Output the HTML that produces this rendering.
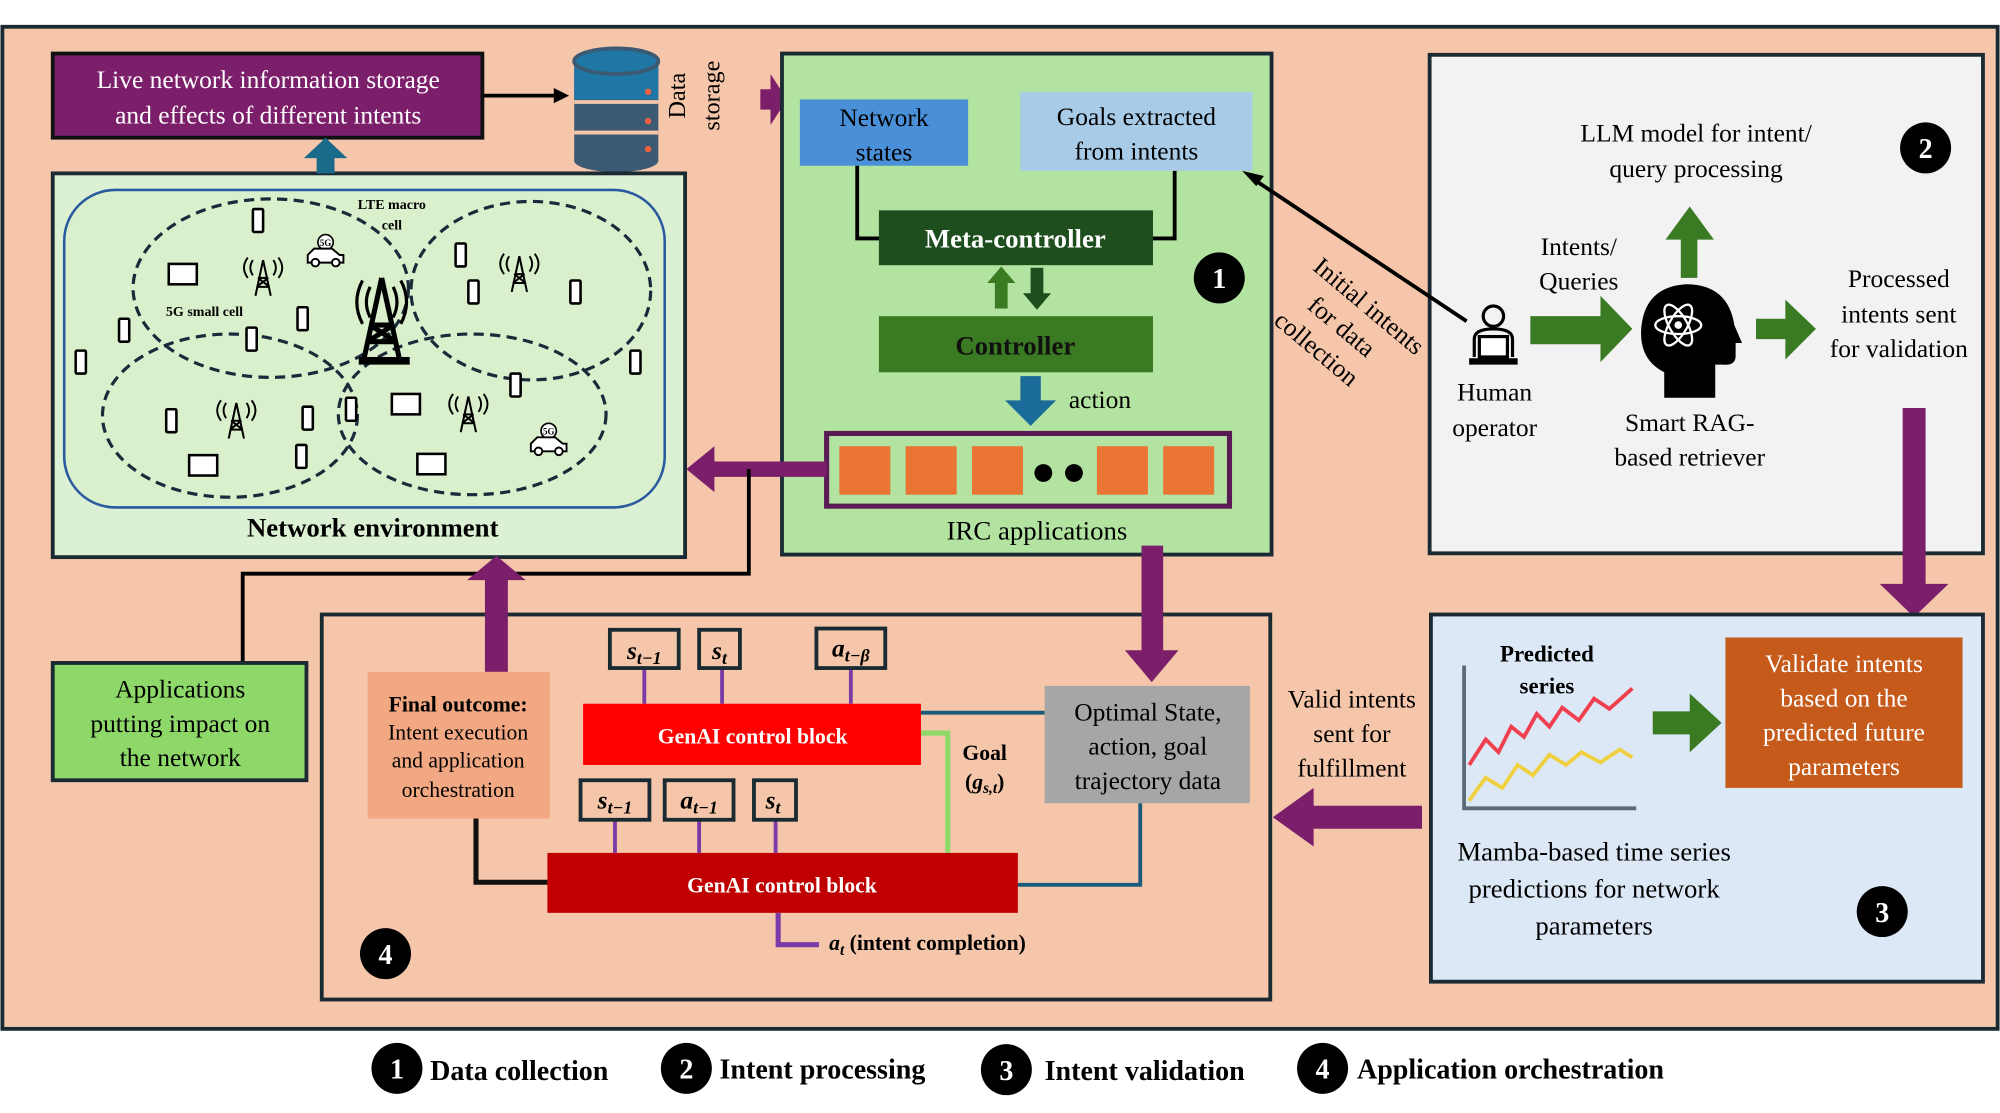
<!DOCTYPE html>
<html><head><meta charset="utf-8"><style>
html,body{margin:0;padding:0;background:#fff}
svg{display:block;font-family:"Liberation Serif","DejaVu Serif",serif}
svg text{font-family:"Liberation Serif","DejaVu Serif",serif}
</style></head><body>
<svg width="2000" height="1113" viewBox="0 0 1568 873" xmlns="http://www.w3.org/2000/svg" font-family="Liberation Serif, DejaVu Serif, serif">
<defs>
<g id="phone"><rect x="-4" y="-9" width="8" height="18" rx="1" fill="#fff" stroke="#000" stroke-width="2"/></g>
<g id="tab"><rect x="-11" y="-8" width="22" height="16" fill="#fff" stroke="#000" stroke-width="2"/></g>
<g id="tower"><path d="M0-14 L-6 14 M0-14 L6 14 M-4 0 L4 0 M-5 7 L5 7 M-4 0 L5 7 M4 0 L-5 7" stroke="#000" stroke-width="1.6" fill="none"/><path d="M-8-14 q-4 6 0 12 M8-14 q4 6 0 12 M-12-16 q-6 8 0 16 M12-16 q6 8 0 16" stroke="#000" stroke-width="1.5" fill="none"/></g>
<g id="car"><circle cx="0" cy="-10" r="6" fill="#fff" stroke="#000" stroke-width="1.3"/><text x="0" y="-7" font-size="7" text-anchor="middle" font-weight="bold">5G</text><path d="M-14 6 v-6 l5-5 h14 l6 5 h3 v6 z" fill="#fff" stroke="#000" stroke-width="1.5"/><circle cx="-8" cy="6" r="3" fill="#fff" stroke="#000" stroke-width="1.5"/><circle cx="8" cy="6" r="3" fill="#fff" stroke="#000" stroke-width="1.5"/></g>
</defs>
<rect x="0" y="0" width="1568" height="873" fill="#fff"/>
<rect x="1.5" y="21" width="1565" height="786" fill="#f5c6aa" stroke="#1a2a33" stroke-width="3"/>

<rect x="41" y="42" width="337" height="66" fill="#7b1f6a" stroke="#111" stroke-width="3"/>
<text x="210" y="69" font-size="20" fill="#fff" text-anchor="middle">Live network information storage</text>
<text x="210" y="97" font-size="20" fill="#fff" text-anchor="middle">and effects of different intents</text>
<line x1="378" y1="75" x2="436" y2="75" stroke="#000" stroke-width="3"/>
<polygon points="434,69 446,75 434,81" fill="#000"/>
<g>
<rect x="450" y="48" width="66" height="78" fill="#3c5a73"/>
<ellipse cx="483" cy="126" rx="33" ry="9" fill="#3c5a73"/>
<rect x="450" y="48" width="66" height="30" fill="#1f77a6"/>
<line x1="450" y1="80" x2="516" y2="80" stroke="#f5c6aa" stroke-width="3"/>
<line x1="450" y1="104" x2="516" y2="104" stroke="#f5c6aa" stroke-width="3"/>
<ellipse cx="483" cy="48" rx="33" ry="10" fill="#1f77a6" stroke="#3c5a73" stroke-width="3"/>
<circle cx="508" cy="72" r="2.5" fill="#f06040"/><circle cx="508" cy="95" r="2.5" fill="#f06040"/><circle cx="508" cy="117" r="2.5" fill="#f06040"/>
</g>
<text transform="translate(537,75) rotate(-90)" font-size="19" text-anchor="middle">Data</text>
<text transform="translate(564,75) rotate(-90)" font-size="19" text-anchor="middle">storage</text>
<polygon points="596,70 604,70 604,58 617,78 604,98 604,86 596,86" fill="#7b1f6a"/>

<rect x="613" y="42" width="384" height="393" fill="#b3e3a0" stroke="#1a2a33" stroke-width="3"/>
<rect x="627" y="78" width="132" height="52" fill="#4a90d9"/>
<text x="693" y="99" font-size="20" text-anchor="middle">Network</text>
<text x="693" y="126" font-size="20" text-anchor="middle">states</text>
<rect x="800" y="72" width="182" height="62" fill="#a8cbe8"/>
<text x="891" y="98" font-size="20" text-anchor="middle">Goals extracted</text>
<text x="891" y="125" font-size="20" text-anchor="middle">from intents</text>
<polyline points="672,130 672,187 690,187" fill="none" stroke="#000" stroke-width="3"/>
<polyline points="921,134 921,187 904,187" fill="none" stroke="#000" stroke-width="3"/>
<rect x="689" y="165" width="215" height="43" fill="#1e4d1e"/>
<text x="796" y="194" font-size="21" font-weight="bold" fill="#fff" text-anchor="middle">Meta-controller</text>
<polygon points="780,242 790,242 790,222 796,222 785,209 774,222 780,222" fill="#3a7a23"/>
<polygon points="808,210 818,210 818,230 824,230 813,243 802,230 808,230" fill="#1e4d1e"/>
<rect x="689" y="248" width="215" height="44" fill="#3a7a23"/>
<text x="796" y="278" font-size="21" font-weight="bold" fill="#111" text-anchor="middle">Controller</text>
<polygon points="800,295 816,295 816,314 828,314 808,334 788,314 800,314" fill="#1a6a9a"/>
<text x="838" y="320" font-size="20">action</text>
<rect x="648" y="340" width="316" height="57" fill="#b3e3a0" stroke="#5a1a55" stroke-width="4"/>
<rect x="658" y="350" width="40" height="38" fill="#ea7434"/>
<rect x="710" y="350" width="40" height="38" fill="#ea7434"/>
<rect x="762" y="350" width="40" height="38" fill="#ea7434"/>
<circle cx="818" cy="371" r="7" fill="#000"/><circle cx="842" cy="371" r="7" fill="#000"/>
<rect x="860" y="350" width="40" height="38" fill="#ea7434"/>
<rect x="912" y="350" width="40" height="38" fill="#ea7434"/>
<text x="813" y="423" font-size="21" text-anchor="middle">IRC applications</text>
<circle cx="956" cy="218" r="20" fill="#000"/><text x="956" y="226" font-size="22" font-weight="bold" fill="#fff" text-anchor="middle">1</text>

<rect x="41" y="136" width="496" height="301" fill="#dcf0d4" stroke="#1a2a33" stroke-width="3"/>
<polygon points="248,136 262,136 262,124 272,124 255,108 238,124 248,124" fill="#1a6a8a"/>
<rect x="50" y="149" width="471" height="249" rx="40" fill="#daf0cc" stroke="#2a5aa0" stroke-width="2"/>
<g fill="none" stroke="#1a2a3a" stroke-width="2.5" stroke-dasharray="8,5">
<ellipse cx="212" cy="226" rx="108" ry="70"/>
<ellipse cx="416" cy="228" rx="94" ry="70"/>
<ellipse cx="180" cy="326" rx="100" ry="64"/>
<ellipse cx="370" cy="325" rx="105" ry="63"/>
</g>
<text x="307" y="164" font-size="11" font-weight="bold" text-anchor="middle">LTE macro</text>
<text x="307" y="180" font-size="11" font-weight="bold" text-anchor="middle">cell</text>
<text x="160" y="248" font-size="11" font-weight="bold" text-anchor="middle">5G small cell</text>
<g>
<path d="M299 218 L285 282 M299 218 L313 282 M290 255 L308 255 M288 268 L310 268 M290 255 L310 268 M308 255 L288 268" stroke="#000" stroke-width="4" fill="none"/>
<rect x="281" y="280" width="40" height="6" fill="#000"/>
<path d="M290 225 q-6 12 0 24 M308 225 q6 12 0 24 M284 220 q-9 17 0 34 M314 220 q9 17 0 34" stroke="#000" stroke-width="2.5" fill="none"/>
</g>
<use href="#tower" x="206" y="218"/><use href="#tower" x="407" y="215"/><use href="#tower" x="185" y="330"/><use href="#tower" x="367" y="325"/>
<use href="#car" x="255" y="200"/><use href="#car" x="430" y="348"/>
<use href="#phone" x="202" y="173"/><use href="#phone" x="361" y="200"/><use href="#phone" x="371" y="229"/><use href="#phone" x="451" y="229"/>
<use href="#phone" x="237" y="250"/><use href="#phone" x="197" y="266"/><use href="#phone" x="97" y="259"/><use href="#phone" x="63" y="284"/>
<use href="#phone" x="498" y="284"/><use href="#phone" x="134" y="330"/><use href="#phone" x="241" y="328"/><use href="#phone" x="236" y="358"/>
<use href="#phone" x="275" y="321"/><use href="#phone" x="404" y="302"/>
<use href="#tab" x="143" y="215"/><use href="#tab" x="318" y="317"/><use href="#tab" x="159" y="365"/><use href="#tab" x="338" y="364"/>
<text x="292" y="421" font-size="21" font-weight="bold" text-anchor="middle">Network environment</text>

<polygon points="648,362 560,362 560,350 538,368 560,386 560,374 648,374" fill="#7b1f6a"/>
<polyline points="587,368 587,450 190,450 190,520" fill="none" stroke="#000" stroke-width="3"/>
<rect x="41" y="520" width="199" height="92" fill="#8ed86a" stroke="#1a2a33" stroke-width="3"/>
<text x="141" y="547" font-size="20" text-anchor="middle">Applications</text>
<text x="141" y="574" font-size="20" text-anchor="middle">putting impact on</text>
<text x="141" y="601" font-size="20" text-anchor="middle">the network</text>

<rect x="252" y="482" width="744" height="302" fill="none" stroke="#1a2a33" stroke-width="3"/>
<polygon points="380,527 398,527 398,455 412,455 389,436 366,455 380,455" fill="#7b1f6a"/>
<polygon points="895,428 912,428 912,510 924,510 903,535 882,510 895,510" fill="#7b1f6a"/>
<rect x="288" y="527" width="143" height="115" fill="#f2a882"/>
<text x="359" y="558" font-size="17" font-weight="bold" text-anchor="middle">Final outcome:</text>
<text x="359" y="580" font-size="17" text-anchor="middle">Intent execution</text>
<text x="359" y="602" font-size="17" text-anchor="middle">and application</text>
<text x="359" y="625" font-size="17" text-anchor="middle">orchestration</text>
<g stroke="#7a3aa8" stroke-width="3">
<line x1="505" y1="524" x2="505" y2="552"/><line x1="566" y1="524" x2="566" y2="552"/><line x1="667" y1="524" x2="667" y2="552"/>
<line x1="482" y1="643" x2="482" y2="669"/><line x1="548" y1="643" x2="548" y2="669"/><line x1="608" y1="643" x2="608" y2="669"/>
</g>
<g fill="#f5c6aa" stroke="#1a2a33" stroke-width="3">
<rect x="478" y="494" width="54" height="30"/><rect x="548" y="494" width="32" height="30"/><rect x="640" y="493" width="54" height="31"/>
<rect x="455" y="612" width="54" height="31"/><rect x="521" y="612" width="54" height="31"/><rect x="591" y="612" width="33" height="31"/>
</g>
<g font-size="20" font-style="italic" font-weight="bold" text-anchor="middle">
<text x="505" y="517">s<tspan font-size="14" dy="4">t−1</tspan></text>
<text x="564" y="517">s<tspan font-size="14" dy="4">t</tspan></text>
<text x="667" y="515">a<tspan font-size="14" dy="4">t−β</tspan></text>
<text x="482" y="634">s<tspan font-size="14" dy="4">t−1</tspan></text>
<text x="548" y="634">a<tspan font-size="14" dy="4">t−1</tspan></text>
<text x="606" y="634">s<tspan font-size="14" dy="4">t</tspan></text>
</g>
<polyline points="722,559 819,559" stroke="#1a5a7a" stroke-width="3"/>
<polyline points="894,630 894,694 798,694" fill="none" stroke="#1a5a7a" stroke-width="3"/>
<polyline points="722,575 743,575 743,669" fill="none" stroke="#8ed86a" stroke-width="4"/>
<polyline points="373,642 373,692 429,692" fill="none" stroke="#111" stroke-width="4"/>
<polyline points="610,716 610,741 642,741" fill="none" stroke="#7a3aa8" stroke-width="4"/>
<rect x="457" y="552" width="265" height="48" fill="#ff0000"/>
<text x="590" y="583" font-size="17" font-weight="bold" fill="#fff" text-anchor="middle">GenAI control block</text>
<rect x="429" y="669" width="369" height="47" fill="#c00000"/>
<text x="613" y="700" font-size="17" font-weight="bold" fill="#fff" text-anchor="middle">GenAI control block</text>
<text x="772" y="596" font-size="17" font-weight="bold" text-anchor="middle">Goal</text>
<text x="772" y="619" font-size="17" font-weight="bold" text-anchor="middle">(<tspan font-style="italic">g</tspan><tspan font-size="12" dy="3" font-style="italic">s,t</tspan><tspan dy="-3">)</tspan></text>
<rect x="819" y="538" width="161" height="92" fill="#a6a6a6"/>
<text x="900" y="565" font-size="20" text-anchor="middle">Optimal State,</text>
<text x="900" y="592" font-size="20" text-anchor="middle">action, goal</text>
<text x="900" y="619" font-size="20" text-anchor="middle">trajectory data</text>
<text x="650" y="745" font-size="17" font-weight="bold"><tspan font-style="italic">a</tspan><tspan font-size="12" dy="4" font-style="italic">t</tspan><tspan dy="-4"> (intent completion)</tspan></text>
<circle cx="302" cy="748" r="20" fill="#000"/><text x="302" y="756" font-size="22" font-weight="bold" fill="#fff" text-anchor="middle">4</text>

<text x="1060" y="555" font-size="20" text-anchor="middle">Valid intents</text>
<text x="1060" y="582" font-size="20" text-anchor="middle">sent for</text>
<text x="1060" y="609" font-size="20" text-anchor="middle">fulfillment</text>
<polygon points="1115,632 1030,632 1030,618 998,641 1030,664 1030,650 1115,650" fill="#7b1f6a"/>

<rect x="1121" y="43" width="434" height="391" fill="#f2f2f2" stroke="#1a2a33" stroke-width="3"/>
<text x="1330" y="111" font-size="20" text-anchor="middle">LLM model for intent/</text>
<text x="1330" y="139" font-size="20" text-anchor="middle">query processing</text>
<circle cx="1510" cy="116" r="20" fill="#000"/><text x="1510" y="124" font-size="22" font-weight="bold" fill="#fff" text-anchor="middle">2</text>
<polygon points="1318,218 1331,218 1331,188 1344,188 1325,162 1306,188 1318,188" fill="#3a7a23"/>
<text x="1238" y="200" font-size="20" text-anchor="middle">Intents/</text>
<text x="1238" y="227" font-size="20" text-anchor="middle">Queries</text>
<polygon points="1200,248 1255,248 1255,232 1280,258 1255,284 1255,270 1200,270" fill="#3a7a23"/>
<polygon points="1377,250 1400,250 1400,235 1424,258 1400,282 1400,266 1377,266" fill="#3a7a23"/>
<text x="1489" y="225" font-size="20" text-anchor="middle">Processed</text>
<text x="1489" y="253" font-size="20" text-anchor="middle">intents sent</text>
<text x="1489" y="280" font-size="20" text-anchor="middle">for validation</text>
<path d="M1305 312 v-20 q-20 -10 -18 -35 q3 -32 35 -34 q33 0 38 32 l6 14 h-5 v10 q0 8 -10 7 h-6 v26 z" fill="#000"/>
<g fill="none" stroke="#fff" stroke-width="1.8"><ellipse cx="1316" cy="255" rx="18" ry="7"/><ellipse cx="1316" cy="255" rx="18" ry="7" transform="rotate(60 1316 255)"/><ellipse cx="1316" cy="255" rx="18" ry="7" transform="rotate(-60 1316 255)"/></g>
<circle cx="1316" cy="255" r="3" fill="#fff"/>
<text x="1325" y="338" font-size="20" text-anchor="middle">Smart RAG-</text>
<text x="1325" y="365" font-size="20" text-anchor="middle">based retriever</text>
<circle cx="1171" cy="248" r="8" fill="none" stroke="#000" stroke-width="2.5"/>
<path d="M1156 280 v-14 q0 -8 15 -8 q15 0 15 8 v14" fill="none" stroke="#000" stroke-width="2.5"/>
<rect x="1160" y="264" width="22" height="16" fill="#fff" stroke="#000" stroke-width="2.5"/>
<rect x="1152" y="281" width="38" height="5" fill="#000"/>
<text x="1172" y="314" font-size="20" text-anchor="middle">Human</text>
<text x="1172" y="342" font-size="20" text-anchor="middle">operator</text>
<line x1="1150" y1="252" x2="982" y2="140" stroke="#000" stroke-width="3"/>
<polygon points="974,134 991,138 985,146" fill="#000"/>
<g transform="translate(1055,262) rotate(40)" font-size="20" text-anchor="middle">
<text x="0" y="-22">Initial intents</text><text x="-6" y="4">for data</text><text x="-10" y="30">collection</text></g>
<polygon points="1492,320 1510,320 1510,458 1528,458 1501,484 1474,458 1492,458" fill="#7b1f6a"/>

<rect x="1122" y="482" width="433" height="288" fill="#dce8f5" stroke="#1a2a33" stroke-width="3"/>
<text x="1213" y="519" font-size="18" font-weight="bold" text-anchor="middle">Predicted</text>
<text x="1213" y="544" font-size="18" font-weight="bold" text-anchor="middle">series</text>
<polyline points="1148,522 1148,634 1283,634" fill="none" stroke="#5a6a78" stroke-width="3"/>
<polyline points="1152,600 1165,580 1175,590 1185,570 1195,578 1205,560 1215,570 1225,555 1238,565 1250,548 1262,556 1280,540" fill="none" stroke="#f04050" stroke-width="3"/>
<polyline points="1152,628 1165,610 1178,618 1190,600 1202,608 1215,592 1228,600 1240,590 1255,598 1270,588 1280,594" fill="none" stroke="#f0d040" stroke-width="3"/>
<polygon points="1296,558 1325,558 1325,544 1350,567 1325,590 1325,576 1296,576" fill="#3a7a23"/>
<rect x="1353" y="500" width="186" height="118" fill="#c55a1a"/>
<text x="1446" y="527" font-size="20" fill="#fff" text-anchor="middle">Validate intents</text>
<text x="1446" y="554" font-size="20" fill="#fff" text-anchor="middle">based on the</text>
<text x="1446" y="581" font-size="20" fill="#fff" text-anchor="middle">predicted future</text>
<text x="1446" y="608" font-size="20" fill="#fff" text-anchor="middle">parameters</text>
<text x="1250" y="675" font-size="21" text-anchor="middle">Mamba-based time series</text>
<text x="1250" y="704" font-size="21" text-anchor="middle">predictions for network</text>
<text x="1250" y="733" font-size="21" text-anchor="middle">parameters</text>
<circle cx="1476" cy="715" r="20" fill="#000"/><text x="1476" y="723" font-size="22" font-weight="bold" fill="#fff" text-anchor="middle">3</text>

<g font-size="22" font-weight="bold">
<circle cx="311" cy="838" r="20" fill="#000"/><text x="311" y="846" fill="#fff" text-anchor="middle">1</text><text x="337" y="847">Data collection</text>
<circle cx="538" cy="838" r="20" fill="#000"/><text x="538" y="846" fill="#fff" text-anchor="middle">2</text><text x="564" y="846">Intent processing</text>
<circle cx="789" cy="839" r="20" fill="#000"/><text x="789" y="847" fill="#fff" text-anchor="middle">3</text><text x="819" y="847">Intent validation</text>
<circle cx="1037" cy="838" r="20" fill="#000"/><text x="1037" y="846" fill="#fff" text-anchor="middle">4</text><text x="1064" y="846">Application orchestration</text>
</g>
</svg>
</body></html>
